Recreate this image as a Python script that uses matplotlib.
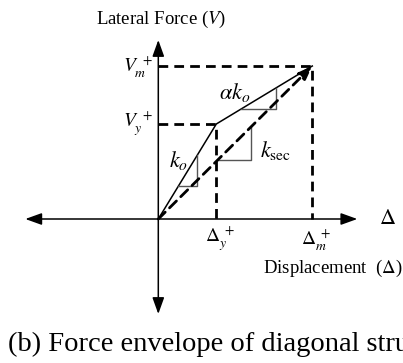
import matplotlib.pyplot as plt

plt.rcParams['font.family'] = 'Liberation Serif'
plt.rcParams['mathtext.fontset'] = 'stix'

# ENVELOPE KEY POINTS (drawing units, origin at 0,0):
delta_y = 58
delta_m = 154
V_y = 95
V_m = 153

# AXIS EXTENTS:
x_left, x_right = -133, 199
y_down, y_up = -95, 179

# SLOPE TRIANGLES (x range of horizontal leg on each branch):
ko_tri = [20, 39]
ak_tri = [83, 118]
sec_tri = [59, 93]

fig = plt.figure(figsize=(4.03, 3.63), dpi=100)
ax = fig.add_axes([0, 0, 1, 1])
ax.set_xlim(-158.3, 244.7)
ax.set_ylim(-144, 219)
ax.axis('off')

# axes with arrow heads
arrow_kw = dict(arrowstyle='<|-|>,head_length=0.5,head_width=0.18', color='black',
                lw=1.1, shrinkA=0, shrinkB=0, mutation_scale=20)
ax.annotate('', xy=(x_right, 0), xytext=(x_left, 0), arrowprops=arrow_kw)
ax.annotate('', xy=(0, y_up), xytext=(0, y_down), arrowprops=arrow_kw)

# dashed guide lines
dash = dict(color='black', lw=2.0, ls=(0, (3.5, 2.2)))
ax.plot([0, delta_y, delta_y], [V_y, V_y, 0], **dash)
ax.plot([0, delta_m, delta_m], [V_m, V_m, 0], **dash)

# secant stiffness (dashed, arrow at peak)
ax.annotate('', xy=(delta_m, V_m), xytext=(0, 0),
            arrowprops=dict(arrowstyle='-|>,head_length=0.4,head_width=0.15', color='black',
                            lw=2.0, ls=(0, (3.5, 2.2)), shrinkA=0, shrinkB=0, mutation_scale=20))

# bilinear envelope
ax.plot([0, delta_y, delta_m], [0, V_y, V_m], color='black', lw=1.1)


# slope triangle helper
def slope_triangle(x0, y0, slope, xs):
    ya = y0 + slope * (xs[0] - x0)
    yb = y0 + slope * (xs[1] - x0)
    ax.plot([xs[0], xs[1], xs[1]], [ya, ya, yb], color='#555555', lw=1.0)


slope_triangle(0, 0, V_y / delta_y, ko_tri)
slope_triangle(delta_y, V_y, (V_m - V_y) / (delta_m - delta_y), ak_tri)
slope_triangle(0, 0, V_m / delta_m, sec_tri)

# labels
ax.text(3, 200, 'Lateral Force ($\\mathit{V}$)', fontsize=13.5, ha='center', va='center')
ax.text(-5, V_m, '$V_m^{\\ +}$', fontsize=14, ha='right', va='center')
ax.text(-5, V_y, '$V_y^{\\ +}$', fontsize=14, ha='right', va='center')
ax.text(76, 127, '$\\alpha k_o$', fontsize=16, ha='center', va='center')
ax.text(20, 58, '$k_o$', fontsize=16, ha='center', va='center')
ax.text(117, 68, '$k_{\\rm sec}$', fontsize=16, ha='center', va='center')
ax.text(229, 0, '$\\Delta$', fontsize=16, ha='center', va='center')
ax.text(delta_y + 4, -20, '$\\Delta_y^{\\ +}$', fontsize=14, ha='center', va='center')
ax.text(delta_m + 4, -20, '$\\Delta_m^{\\ +}$', fontsize=14, ha='center', va='center')
ax.text(105, -49, 'Displacement  ($\\Delta$)', fontsize=13.5, ha='left', va='center')
ax.text(-150, -125, '(b) Force envelope of diagonal stru', fontsize=20.5, ha='left', va='center')

plt.savefig('out.png', dpi=100)
